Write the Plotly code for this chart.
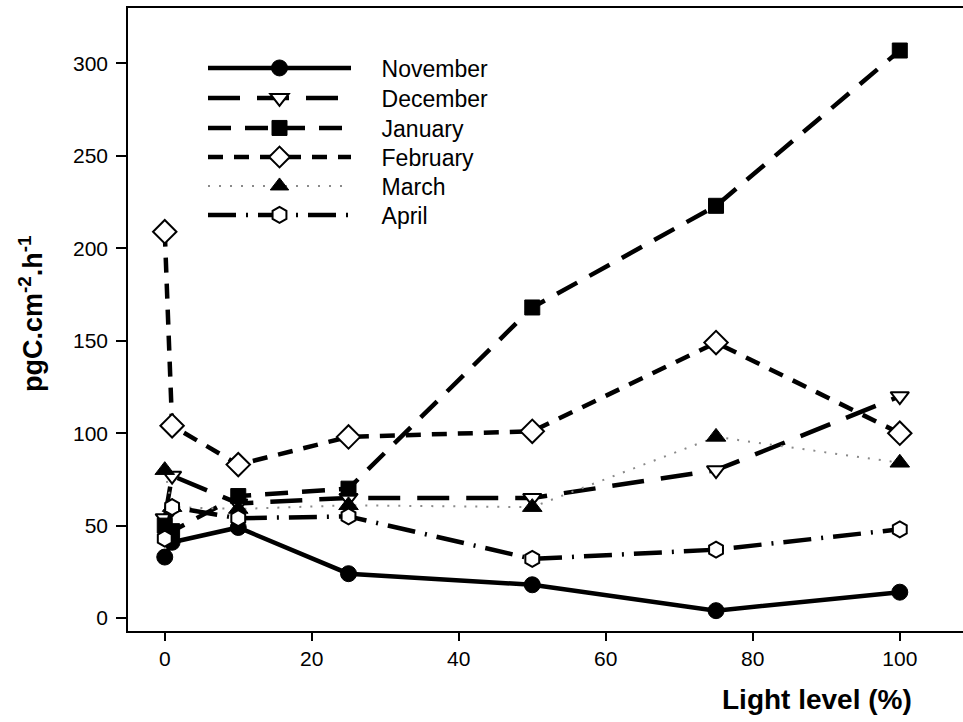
import plotly.graph_objects as go

light = [0, 1, 10, 25, 50, 75, 100]
november = [33, 41, 49, 24, 18, 4, 14]
december = [54, 77, 62, 65, 65, 80, 120]
january = [50, 47, 66, 70, 168, 223, 307]
february = [209, 104, 83, 98, 101, 149, 100]
march = [80, 60, 59, 61, 60, 98, 84]
april = [43, 60, 54, 55, 32, 37, 48]

x_ticks = [0, 20, 40, 60, 80, 100]
y_ticks = [0, 50, 100, 150, 200, 250, 300]

FONT = "Liberation Sans, Arial, sans-serif"
PAD = "\u00a0" * 4

series = [
    ("November", november, dict(color="black", width=4.5, dash="solid"),
     dict(symbol="circle", size=16, color="black", line=dict(color="black", width=1))),
    ("December", december, dict(color="black", width=4.5, dash="32px,17px"),
     dict(symbol="triangle-down", size=16, color="white", line=dict(color="black", width=2))),
    ("January", january, dict(color="black", width=4.5, dash="23px,14px"),
     dict(symbol="square", size=15, color="black", line=dict(color="black", width=1))),
    ("February", february, dict(color="black", width=4.5, dash="15px,11px"),
     dict(symbol="diamond", size=18, color="white", line=dict(color="black", width=2))),
    ("March", march, dict(color="#8a8a8a", width=2, dash="2px,9px"),
     dict(symbol="triangle-up", size=17, color="black", line=dict(color="black", width=1))),
    ("April", april, dict(color="black", width=4.5, dash="28px,10px,2px,10px"),
     dict(symbol="hexagon", size=16, color="white", line=dict(color="black", width=2))),
]

# plot area in pixels: top 8, bottom 631 (height 623); left 128, width 835
row_px = [68, 98, 128, 157, 186, 215]
legend_names = ["legend", "legend2", "legend3", "legend4", "legend5", "legend6"]

fig = go.Figure()
legend_layouts = {}
for (name, vals, line, marker), lg, rp in zip(series, legend_names, row_px):
    fig.add_trace(go.Scatter(x=light, y=vals, name=PAD + name, mode="lines+markers",
                             line=line, marker=marker, legend=lg))
    legend_layouts[lg] = dict(
        x=(203 - 128) / 835, y=(631 - rp) / 623, xanchor="left", yanchor="middle",
        bgcolor="rgba(0,0,0,0)", borderwidth=0,
        font=dict(family=FONT, size=23, color="black"),
        itemwidth=143,
    )

fig.update_layout(
    width=963, height=722,
    margin=dict(l=128, r=0, t=8, b=91, autoexpand=False),
    paper_bgcolor="white", plot_bgcolor="white",
    font=dict(family=FONT, size=21, color="black"),
    showlegend=True,
    xaxis=dict(range=[-5, 108.6], tickvals=x_ticks, ticks="outside", ticklen=8,
               tickwidth=1.5, tickcolor="black", showline=True, linecolor="black",
               linewidth=1.5, mirror=True, showgrid=False, zeroline=False,
               tickfont=dict(family=FONT, size=21, color="black")),
    yaxis=dict(range=[-7, 330], tickvals=y_ticks, ticks="outside", ticklen=10,
               tickwidth=1.5, tickcolor="black", showline=True, linecolor="black",
               linewidth=1.5, mirror=False, showgrid=False, zeroline=False,
               ticklabelstandoff=4,
               tickfont=dict(family=FONT, size=21, color="black")),
    annotations=[
        dict(text="<b>pgC.cm<sup>-2</sup>.h<sup>-1</sup></b>", xref="paper", yref="paper",
             x=(31 - 128) / 835, y=(631 - 314) / 623, xanchor="center", yanchor="middle",
             textangle=-90, showarrow=False,
             font=dict(family=FONT, size=27, color="black")),
        dict(text="<b>Light level (%)</b>", xref="paper", yref="paper",
             x=(816.5 - 128) / 835, y=(631 - 699) / 623, xanchor="center", yanchor="middle",
             showarrow=False, font=dict(family=FONT, size=28, color="black")),
    ],
)
fig.update_layout(**legend_layouts)

fig.write_html(
    "out.html",
    config={"displayModeBar": False},
    post_script="document.body.style.margin='0';document.body.style.overflow='hidden';",
)
